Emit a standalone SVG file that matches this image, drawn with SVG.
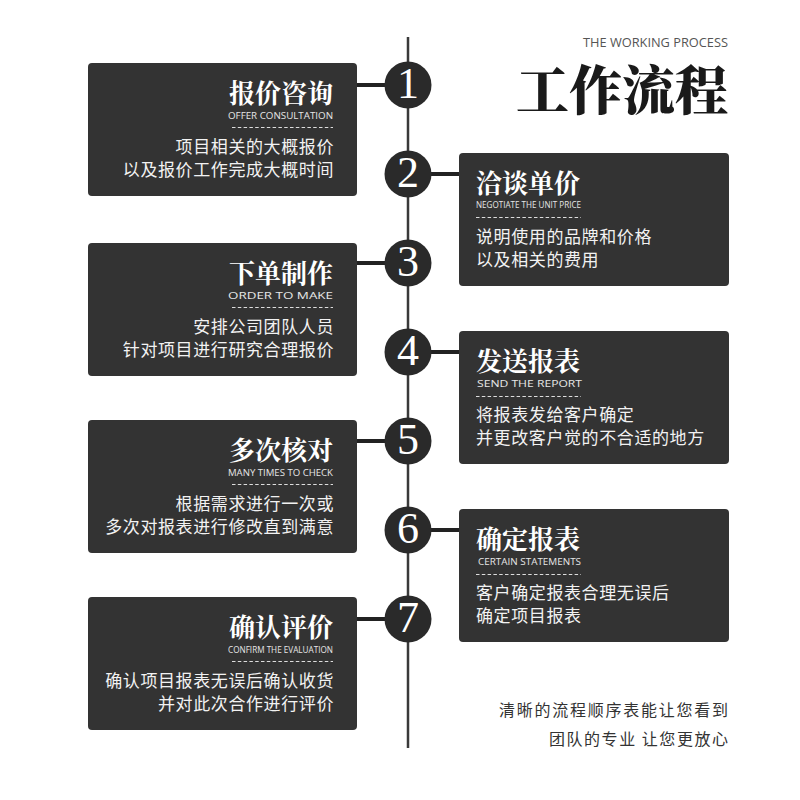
<svg xmlns="http://www.w3.org/2000/svg" width="800" height="800" viewBox="0 0 800 800">
<style>
.box{fill:#333333}
.circ{fill:#2a2a2a}
.num{font-family:"Liberation Serif","DejaVu Serif",serif;font-size:44px;fill:#ffffff;text-anchor:middle}
.title{font-family:"Noto Serif CJK SC","Noto Sans CJK SC",sans-serif;font-weight:700;font-size:26px;fill:#ffffff}
.sub{font-family:"Open Sans","Liberation Sans",sans-serif;font-size:9px;fill:#e6e6e6}
.body{font-family:"Noto Sans CJK SC",sans-serif;font-size:17px;fill:#f2f2f2;letter-spacing:0.6px}
.dash{stroke:#dddddd;stroke-width:1;stroke-dasharray:3.5 2.3}
.l{text-anchor:end}
.link{stroke:#222222;stroke-width:4}
.spine{stroke:#3a3a3a;stroke-width:2.5}
.foot{font-family:"Noto Sans CJK SC",sans-serif;font-size:16px;fill:#333333;text-anchor:end}
</style>
<rect width="800" height="800" fill="#ffffff"/>
<g id="header">
<text x="728" y="47" text-anchor="end" font-family="Open Sans, Liberation Sans, sans-serif" font-size="12" fill="#555555" textLength="145" lengthAdjust="spacingAndGlyphs">THE WORKING PROCESS</text>
<text x="728" y="110" text-anchor="end" font-family="Noto Serif CJK SC, Noto Sans CJK SC, sans-serif" font-weight="900" font-size="53" fill="#1a1a1a">工作流程</text>
</g>
<g id="connectors">
<line class="spine" x1="408" y1="37" x2="408" y2="748"/>
<line class="link" x1="357" y1="85" x2="408" y2="85"/>
<line class="link" x1="408" y1="174" x2="459" y2="174"/>
<line class="link" x1="357" y1="263" x2="408" y2="263"/>
<line class="link" x1="408" y1="352" x2="459" y2="352"/>
<line class="link" x1="357" y1="441" x2="408" y2="441"/>
<line class="link" x1="408" y1="530" x2="459" y2="530"/>
<line class="link" x1="357" y1="619" x2="408" y2="619"/>
</g>
<g id="node1">
<rect class="box" x="88" y="63" width="269" height="133" rx="4"/>
<text class="title l" x="333" y="103">报价咨询</text>
<text class="sub" x="228" y="119" textLength="105" lengthAdjust="spacingAndGlyphs">OFFER CONSULTATION</text>
<line class="dash" x1="232" y1="127.5" x2="333" y2="127.5"/>
<text class="body l" x="334" y="153">项目相关的大概报价</text>
<text class="body l" x="334" y="176">以及报价工作完成大概时间</text>
<circle class="circ" cx="408" cy="85" r="23.5"/>
<text class="num" x="408" y="98">1</text>
</g>
<g id="node2">
<rect class="box" x="459" y="153" width="270" height="133" rx="4"/>
<text class="title" x="476" y="193">洽谈单价</text>
<text class="sub" x="476" y="208" textLength="105" lengthAdjust="spacingAndGlyphs">NEGOTIATE THE UNIT PRICE</text>
<line class="dash" x1="476" y1="217.5" x2="581" y2="217.5"/>
<text class="body" x="476" y="243">说明使用的品牌和价格</text>
<text class="body" x="476" y="266">以及相关的费用</text>
<circle class="circ" cx="408" cy="174" r="23.5"/>
<text class="num" x="408" y="187">2</text>
</g>
<g id="node3">
<rect class="box" x="88" y="243" width="269" height="133" rx="4"/>
<text class="title l" x="333" y="283">下单制作</text>
<text class="sub" x="228" y="299" textLength="105" lengthAdjust="spacingAndGlyphs">ORDER TO MAKE</text>
<line class="dash" x1="232" y1="307.5" x2="333" y2="307.5"/>
<text class="body l" x="334" y="333">安排公司团队人员</text>
<text class="body l" x="334" y="356">针对项目进行研究合理报价</text>
<circle class="circ" cx="408" cy="263" r="23.5"/>
<text class="num" x="408" y="276">3</text>
</g>
<g id="node4">
<rect class="box" x="459" y="331" width="270" height="133" rx="4"/>
<text class="title" x="476" y="371">发送报表</text>
<text class="sub" x="477" y="387" textLength="105" lengthAdjust="spacingAndGlyphs">SEND THE REPORT</text>
<line class="dash" x1="476" y1="396.5" x2="581" y2="396.5"/>
<text class="body" x="476" y="421">将报表发给客户确定</text>
<text class="body" x="476" y="444">并更改客户觉的不合适的地方</text>
<circle class="circ" cx="408" cy="352" r="23.5"/>
<text class="num" x="408" y="365">4</text>
</g>
<g id="node5">
<rect class="box" x="88" y="420" width="269" height="133" rx="4"/>
<text class="title l" x="333" y="460">多次核对</text>
<text class="sub" x="228" y="476" textLength="105" lengthAdjust="spacingAndGlyphs">MANY TIMES TO CHECK</text>
<line class="dash" x1="232" y1="484.5" x2="333" y2="484.5"/>
<text class="body l" x="334" y="510">根据需求进行一次或</text>
<text class="body l" x="334" y="533">多次对报表进行修改直到满意</text>
<circle class="circ" cx="408" cy="441" r="23.5"/>
<text class="num" x="408" y="454">5</text>
</g>
<g id="node6">
<rect class="box" x="459" y="509" width="270" height="133" rx="4"/>
<text class="title" x="476" y="549">确定报表</text>
<text class="sub" x="478" y="565" textLength="103" lengthAdjust="spacingAndGlyphs">CERTAIN STATEMENTS</text>
<line class="dash" x1="476" y1="574.5" x2="581" y2="574.5"/>
<text class="body" x="476" y="599">客户确定报表合理无误后</text>
<text class="body" x="476" y="622">确定项目报表</text>
<circle class="circ" cx="408" cy="530" r="23.5"/>
<text class="num" x="408" y="543">6</text>
</g>
<g id="node7">
<rect class="box" x="88" y="597" width="269" height="133" rx="4"/>
<text class="title l" x="333" y="637">确认评价</text>
<text class="sub" x="228" y="653" textLength="105" lengthAdjust="spacingAndGlyphs">CONFIRM THE EVALUATION</text>
<line class="dash" x1="232" y1="661.5" x2="333" y2="661.5"/>
<text class="body l" x="334" y="687">确认项目报表无误后确认收货</text>
<text class="body l" x="334" y="710">并对此次合作进行评价</text>
<circle class="circ" cx="408" cy="619" r="23.5"/>
<text class="num" x="408" y="632">7</text>
</g>
<g id="footer">
<text class="foot" x="728" y="716" textLength="229" lengthAdjust="spacing">清晰的流程顺序表能让您看到</text>
<text class="foot" x="728" y="745" textLength="179" lengthAdjust="spacing">团队的专业 让您更放心</text>
</g>
</svg>
